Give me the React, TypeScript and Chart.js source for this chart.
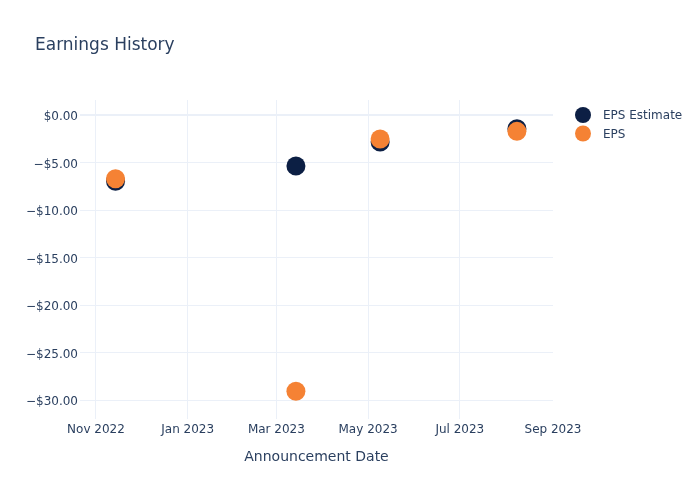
import React, { useEffect, useRef } from "react";
import { Chart, registerables } from "chart.js";

Chart.register(...registerables);

const announcementDates = ["2022-11-14", "2023-03-14", "2023-05-09", "2023-08-08"];
const epsEstimate = [-6.95, -5.35, -2.82, -1.42];
const epsActual = [-6.68, -29.06, -2.5, -1.7];

const xTickDates = ["2022-11-01", "2023-01-01", "2023-03-01", "2023-05-01", "2023-07-01", "2023-09-01"];
const xTickLabels = ["Nov 2022", "Jan 2023", "Mar 2023", "May 2023", "Jul 2023", "Sep 2023"];
const yTickValues = [0, -5, -10, -15, -20, -25, -30];

const seriesNames = ["EPS Estimate", "EPS"];
const seriesColors = ["#0c1f44", "#f58234"];

const FONT = "'DejaVu Sans', 'Open Sans', sans-serif";
const TEXT = "#2a3f5f";
const GRID = "#ebf0f8";

const ts = (s: string) => Date.parse(s + "T00:00:00Z");

const fmtMoney = (v: number) => (v < 0 ? "\u2212$" : "$") + Math.abs(v).toFixed(2);

export default function App() {
  const ref = useRef<HTMLCanvasElement | null>(null);

  useEffect(() => {
    if (!ref.current) return;

    const decor = {
      id: "decor",
      afterDraw(chart: any) {
        const ctx = chart.ctx;
        ctx.save();
        ctx.fillStyle = TEXT;
        ctx.font = `17px ${FONT}`;
        ctx.textBaseline = "middle";
        ctx.textAlign = "left";
        ctx.fillText("Earnings History", 35, 46);
        ctx.font = `12px ${FONT}`;
        seriesNames.forEach((name, i) => {
          const y = 115 + i * 18.5;
          ctx.beginPath();
          ctx.arc(583, y, 8, 0, Math.PI * 2);
          ctx.fillStyle = seriesColors[i];
          ctx.fill();
          ctx.fillStyle = TEXT;
          ctx.fillText(name, 603, y + 1);
        });
        ctx.restore();
      },
    };

    const chart = new Chart(ref.current, {
      type: "scatter",
      data: {
        datasets: [
          {
            label: seriesNames[0],
            data: announcementDates.map((d, i) => ({ x: ts(d), y: epsEstimate[i] })),
            backgroundColor: seriesColors[0],
            borderWidth: 0,
            pointRadius: 9.5,
            order: 1,
          },
          {
            label: seriesNames[1],
            data: announcementDates.map((d, i) => ({ x: ts(d), y: epsActual[i] })),
            backgroundColor: seriesColors[1],
            borderWidth: 0,
            pointRadius: 9.5,
            order: 0,
          },
        ],
      },
      options: {
        animation: false,
        responsive: false,
        layout: { padding: { left: 0, right: 147, top: 100, bottom: 0 } },
        plugins: {
          legend: { display: false },
          tooltip: { enabled: false },
          title: { display: false },
        },
        scales: {
          x: {
            type: "linear",
            min: ts("2022-10-21") + 0.37 * 86400000,
            max: ts("2023-09-01"),
            afterBuildTicks: (s: any) => {
              s.ticks = xTickDates.map((d) => ({ value: ts(d) }));
            },
            afterFit: (s: any) => {
              s.height = 81;
            },
            border: { display: false },
            grid: {
              drawTicks: false,
              color: (c: any) => (c.tick && c.tick.value === ts("2023-09-01") ? "rgba(0,0,0,0)" : GRID),
              lineWidth: 1,
            },
            ticks: {
              padding: 4,
              color: TEXT,
              font: { family: FONT, size: 12 },
              maxRotation: 0,
              autoSkip: false,
              callback: (v: any) => {
                const idx = xTickDates.findIndex((d) => ts(d) === v);
                return idx >= 0 ? xTickLabels[idx] : "";
              },
            },
            title: {
              display: true,
              text: "Announcement Date",
              color: TEXT,
              font: { family: FONT, size: 14 },
              padding: { top: 4, bottom: 34.6 },
            },
          },
          y: {
            type: "linear",
            min: -31.98,
            max: 1.6,
            afterBuildTicks: (s: any) => {
              s.ticks = yTickValues.map((v) => ({ value: v }));
            },
            afterFit: (s: any) => {
              s.width = 80;
            },
            border: { display: false },
            grid: {
              drawTicks: false,
              color: GRID,
              lineWidth: (c: any) => (c.tick && c.tick.value === 0 ? 2 : 1),
            },
            ticks: {
              padding: 2,
              labelOffset: 2,
              color: TEXT,
              font: { family: FONT, size: 12 },
              autoSkip: false,
              callback: (v: any) => fmtMoney(Number(v)),
            },
          },
        },
      },
      plugins: [decor],
    } as any);

    return () => chart.destroy();
  }, []);

  return (
    <div style={{ position: "absolute", left: 0, top: 0, width: 700, height: 500, background: "#fff" }}>
      <canvas ref={ref} width={700} height={500} />
    </div>
  );
}
